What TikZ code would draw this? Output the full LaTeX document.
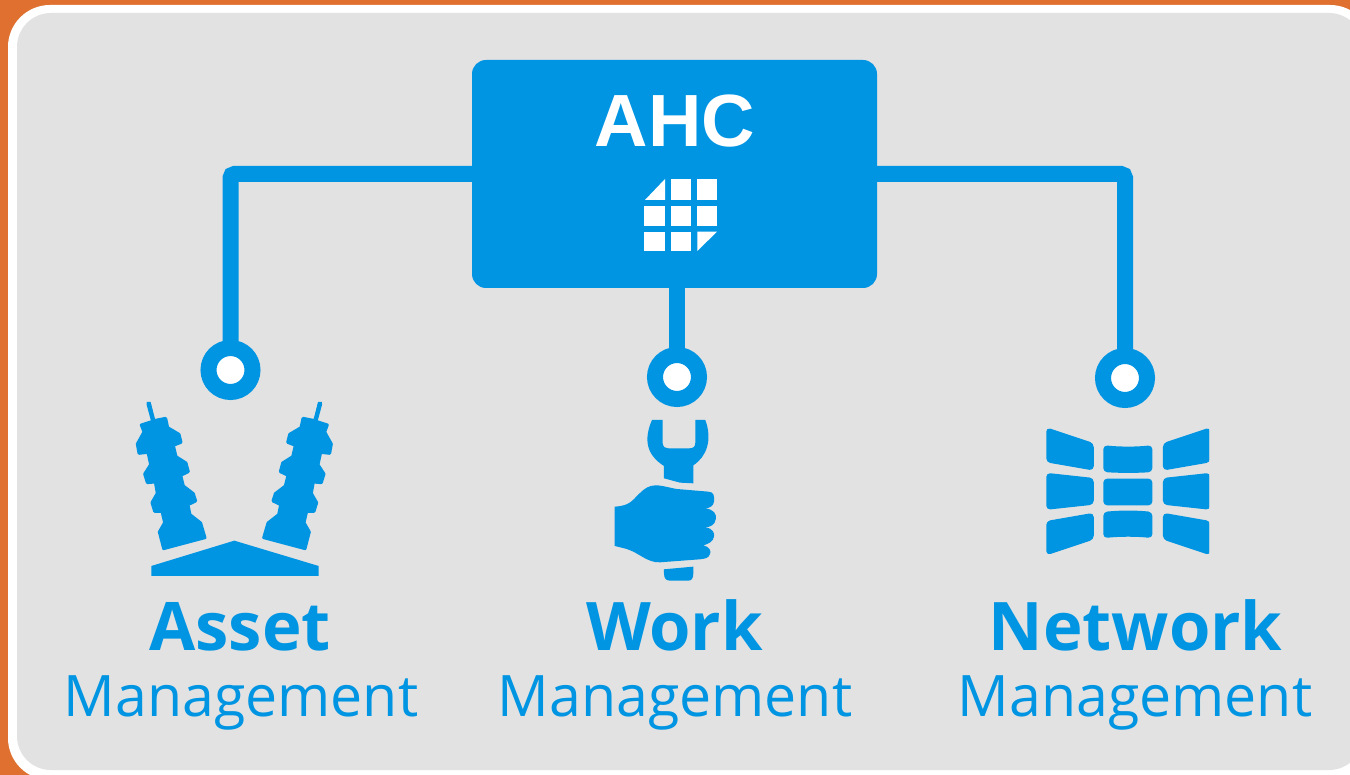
\documentclass[tikz,border=0pt]{standalone}
\usepackage{fontspec}
\setmainfont{Open Sans}
\newfontfamily\ahcfont{Liberation Sans}
\definecolor{ahcblue}{HTML}{0095E3}
\definecolor{ahcorange}{HTML}{E0702F}
\definecolor{ahcgrey}{HTML}{E2E2E2}
\tikzset{
  wire/.style={draw=ahcblue,line width=16pt,rounded corners=4pt},
  ring/.style={circle,draw=ahcblue,fill=white,line width=16pt,minimum size=44pt,inner sep=0pt,outer sep=0pt},
  hub/.style={rectangle,fill=ahcblue,rounded corners=14pt,minimum width=405pt,minimum height=228pt,inner sep=0pt,outer sep=0pt},
  boldlabel/.style={text=ahcblue,inner sep=0pt,anchor=base,font=\fontsize{67}{67}\selectfont\bfseries},
  lightlabel/.style={text=ahcblue,inner sep=0pt,anchor=base,font=\fontsize{57.2}{57.2}\selectfont},
  hublabel/.style={text=white,inner sep=0pt,anchor=base,font=\fontsize{74}{74}\selectfont\ahcfont\bfseries},
  heavy/.style={fill=ahcblue,draw=ahcblue,line width=3pt,line join=round},
  tile/.style={fill=ahcblue,draw=ahcblue,line width=1.5pt,line join=round,rounded corners=3.5pt},
  cell/.style={fill=white,draw=none}
}
\newcommand{\insulatorshape}{%
  \fill[heavy] (84,222)--(88,222)--(102,272)--(137,265)--(143,293)--(177,313)--(183,337)--(160,346)--(168,380)--(198,399)--(205,425)--(182,436)--(190,468)--(220,491)--(227,513)--(204,524)--(210,554)--(242,579)--(255,623)--(131,656)--(118,606)--(134,578)--(126,544)--(104,544)--(96,518)--(112,490)--(106,456)--(82,458)--(74,432)--(92,404)--(84,367)--(57,370)--(52,342)--(72,306)--(64,285)--(98,274)--cycle;
  \fill[ahcblue] (80,216)--(92,216)--(100,250)--(88,250)--cycle;}
\newcommand{\gridside}{%
  \fill[tile] (51,55) -- (189,101) -- (189,179) -- (120,167) -- (51,155) -- cycle;
  \fill[tile] (51,191) -- (189,206) -- (189,282) -- (51,297) -- cycle;
  \fill[tile] (51,335) -- (189,311) -- (189,387) -- (51,433) -- cycle;}
\begin{document}
\begin{tikzpicture}[x=1pt,y=-1pt]
\useasboundingbox (0,0) rectangle (1350,775);
\begin{scope}
\clip (0,0) rectangle (1350,775);
\fill[ahcorange] (0,0) rectangle (1350,775);
\fill[white,rounded corners=42pt] (8,5) rectangle (1372,780);
\fill[ahcgrey,rounded corners=34pt] (17,13) rectangle (1363,770);
\end{scope}

\node[hub] (box) at (674.5,174) {};
\node[hublabel] (ahc) at (675,147) {AHC};
\coordinate (jl) at (472,174);
\coordinate (jr) at (877,174);
\coordinate (jm) at (677,288);
\node[ring] (ra) at (230.5,370) {};
\node[ring] (rw) at (677,377) {};
\node[ring] (rn) at (1125,378) {};
\draw[wire] (jl) -| (ra.north);
\draw[wire] (jr) -| (rn.north);
\draw[wire] (jm) -- (rw.north);

% grid icon in the hub
\begin{scope}[shift={(620,165)},x=0.3333pt,y=-0.3333pt]
\fill[cell] (135,42)--(135,105)--(75,105)--cycle;
\fill[cell] (153,42) rectangle (213,105);
\fill[cell] (232,42) rectangle (291,105);
\fill[cell] (72,122) rectangle (135,183);
\fill[cell] (153,122) rectangle (213,183);
\fill[cell] (232,122) rectangle (291,183);
\fill[cell] (72,200) rectangle (135,258);
\fill[cell] (153,200) rectangle (213,258);
\fill[cell] (232,200)--(291,200)--(232,258)--cycle;
\end{scope}

% insulators
\begin{scope}[shift={(120,330)},x=0.3333pt,y=-0.3333pt]
\insulatorshape
\fill[ahcblue] (94,708)--(343,632)--(596,708)--(596,738)--(94,738)--cycle;
\end{scope}
\begin{scope}[shift={(348.67,330)},x=-0.3333pt,y=-0.3333pt]
\insulatorshape
\end{scope}

% wrench and hand
\begin{scope}[shift={(590,340)},x=0.3333pt,y=-0.3333pt]
\fill[ahcblue] (186,240)--(218,240)--(218,310) .. controls (220,322) and (226,325) .. (235,325)--(298,325) .. controls (310,325) and (316,320) .. (316,308)--(316,240)--(346,240) .. controls (368,300) and (350,350) .. (310,376)--(310,430)--(270,428)--(222,415)--(222,378) .. controls (170,345) and (160,300) .. (186,240)--cycle;
\fill[ahcblue] (74,500) .. controls (125,497) and (125,480) .. (160,450) .. controls (190,425) and (220,440) .. (260,447)--(355,455) .. controls (372,455) and (374,470) .. (372,485) .. controls (370,498) and (360,504) .. (345,506) .. controls (372,506) and (380,525) .. (378,535) .. controls (376,555) and (360,562) .. (345,562) .. controls (370,565) and (374,580) .. (372,590) .. controls (370,605) and (355,612) .. (340,616) .. controls (360,620) and (364,635) .. (360,642) .. controls (356,655) and (345,656) .. (330,658)--(210,667) .. controls (170,668) and (150,640) .. (110,627)--(74,618)--cycle;
\fill[ahcblue] (222,688)--(310,680)--(310,700) .. controls (310,715) and (305,722) .. (295,722)--(240,722) .. controls (228,722) and (222,715) .. (222,700)--cycle;
\end{scope}

% network icon
\begin{scope}
\clip (1030,410) rectangle (1209,570);
\begin{scope}[shift={(1030,410)},x=0.3333pt,y=-0.3333pt]
\gridside
\fill[tile] (222,108) .. controls (270,113) and (320,113) .. (365,108) -- (365,184) .. controls (320,187) and (270,187) .. (222,184) -- cycle;
\fill[tile] (222,208) -- (365,208) -- (365,284) -- (222,284) -- cycle;
\fill[tile] (222,308) .. controls (270,303) and (320,303) .. (365,308) -- (365,382) .. controls (320,377) and (270,377) .. (222,382) -- cycle;
\end{scope}
\begin{scope}[shift={(1226.67,410)},x=-0.3333pt,y=-0.3333pt]
\gridside
\end{scope}
\end{scope}

\node[boldlabel] (t1) at (240,650) {Asset};
\node[lightlabel] (m1) at (241,716) {Management};
\node[boldlabel] (t2) at (674.5,650) {Work};
\node[lightlabel] (m2) at (675,716) {Management};
\node[boldlabel] (t3) at (1135.5,650) {Network};
\node[lightlabel] (m3) at (1135,716) {Management};
\end{tikzpicture}
\end{document}
